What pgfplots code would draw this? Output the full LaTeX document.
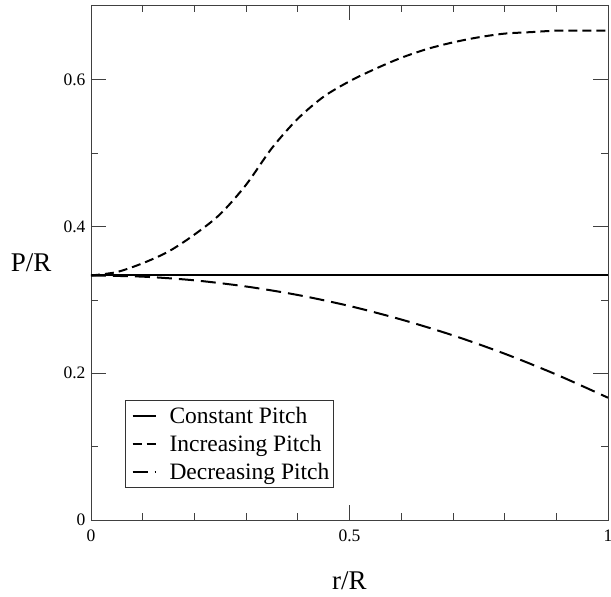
\documentclass[border=0pt]{standalone}
\usepackage{fontspec}
\setmainfont{Liberation Serif}
\usepackage{pgfplots}
\pgfplotsset{compat=1.18}
\usetikzlibrary{calc}
\begin{document}
\begin{tikzpicture}
\begin{axis}[
 scale only axis, width=517pt, height=515pt,
 xmin=0, xmax=1, ymin=0, ymax=0.702,
 xtick={0,0.5,1}, ytick={0,0.2,0.4,0.6},
 xticklabels={0,0.5,1}, yticklabels={0,0.2,0.4,0.6},
 minor x tick num=4, minor y tick num=1,
 tick align=inside, major tick length=15pt, minor tick length=7pt,
 axis line style={draw=black!75, line width=0.8pt},
 every tick/.style={draw=black!75, line width=0.8pt},
 tick label style={font=\fontsize{17.5}{20}\selectfont},
 xticklabel style={anchor=base, yshift=-22pt},
 yticklabel style={anchor=east, xshift=-2pt},
 /pgf/number format/assume math mode=true,
 xlabel={r/R}, ylabel={P/R},
 every axis x label/.style={at={(axis description cs:0.5,0)}, anchor=base, yshift=-70pt, font=\fontsize{27}{30}\selectfont},
 every axis y label/.style={at={(axis description cs:0,0.5)}, anchor=east, xshift=-36pt, font=\fontsize{27}{30}\selectfont},
 legend style={at={(axis description cs:0.066,0.062)}, anchor=south west,
   font=\fontsize{23.5}{27}\selectfont, draw=black!80, line width=0.8pt,
   inner xsep=2pt, inner ysep=5pt, row sep=6pt, cells={anchor=west}},
 legend image code/.code={\draw[#1] (0pt,0pt) -- (23pt,0pt); \path (-4pt,0pt) (34pt,0pt);},
]
\addplot[black, line width=2pt] coordinates {(0,0.33333) (1,0.33333)};
\addlegendentry{Constant Pitch}
\addplot[black, line width=2pt, dash pattern=on 9pt off 5pt, smooth] coordinates {
(0,0.3333) (0.05,0.338) (0.1,0.350) (0.15,0.366) (0.2,0.389) (0.25,0.417)
(0.3,0.457) (0.35,0.507) (0.4,0.547) (0.45,0.577) (0.5,0.598) (0.55,0.615)
(0.6,0.630) (0.65,0.642) (0.7,0.651) (0.75,0.658) (0.8,0.663) (0.85,0.665)
(0.9,0.667) (0.95,0.667) (1.0,0.667)};
\addlegendentry{Increasing Pitch}
\addplot[black, line width=2pt, dash pattern=on 15pt off 7pt, smooth] coordinates {
(0,0.3333) (0.1,0.3317) (0.2,0.3267) (0.3,0.3183) (0.4,0.3067) (0.5,0.2917)
(0.6,0.2733) (0.7,0.2517) (0.8,0.2267) (0.9,0.1983) (1.0,0.1667)};
\addlegendentry{Decreasing Pitch}
\end{axis}
\pgfresetboundingbox
\path ($(current axis.south west)+(-91pt,-77pt)$) rectangle ($(current axis.north east)+(3pt,5pt)$);
\end{tikzpicture}
\end{document}
